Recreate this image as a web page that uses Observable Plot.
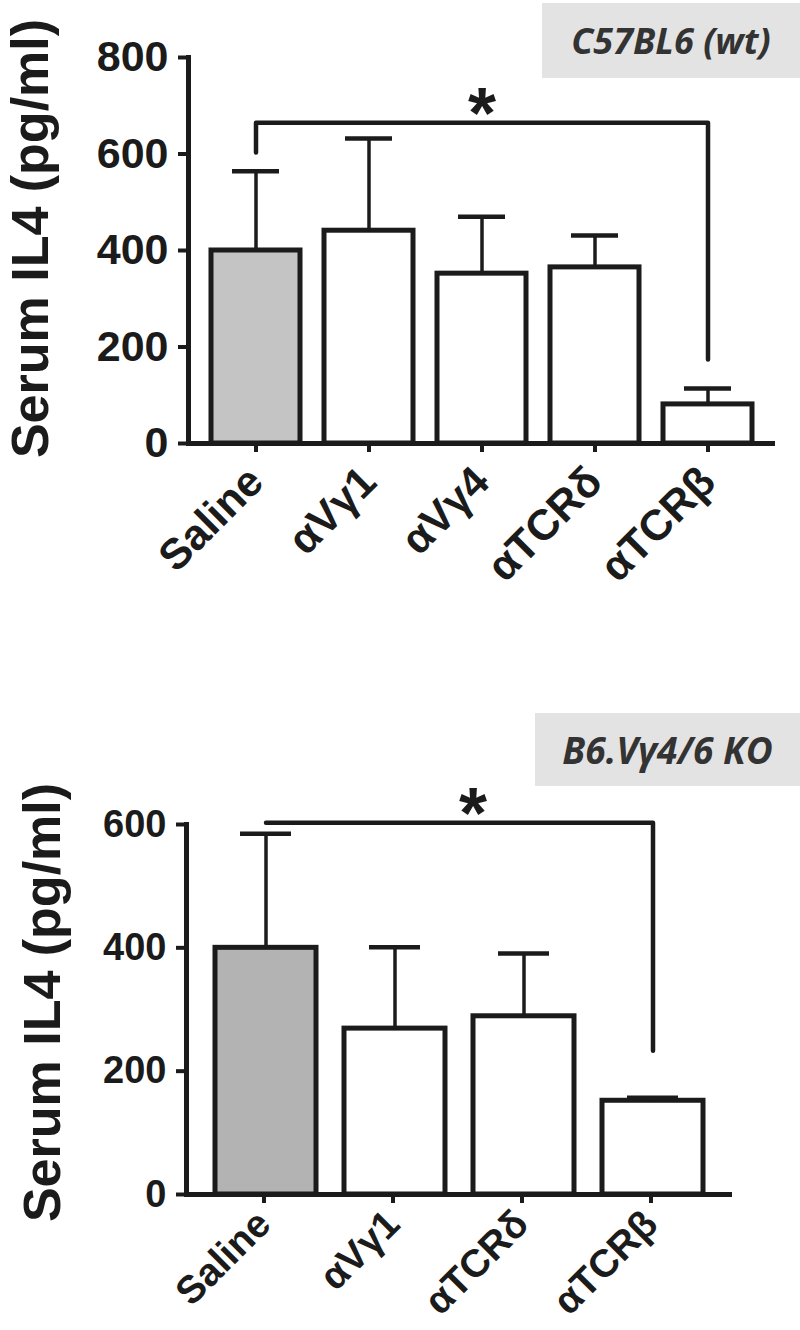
<!DOCTYPE html>
<html><head><meta charset="utf-8">
<script src="https://cdn.jsdelivr.net/npm/d3@7"></script>
<script src="https://cdn.jsdelivr.net/npm/@observablehq/plot@0.6"></script>
<style>
body{margin:0;background:#fff;}
.panel{position:relative;width:800px;overflow:hidden;}
.tag{position:absolute;z-index:2;background:#e3e3e3;display:flex;align-items:center;justify-content:center;font-family:"Open Sans",sans-serif;font-weight:700;font-style:italic;color:#333;font-size:36px;}
</style></head><body>
<div id="top" class="panel" style="height:700px"><div class="tag" style="left:542px;top:3px;width:258px;height:75px">C57BL6 (wt)</div></div>
<div id="bottom" class="panel" style="height:630px"><div class="tag" style="left:535px;top:13px;width:265px;height:73px;font-size:37px">B6.Vγ4/6 KO</div></div>
<script>
const yLabel = "Serum IL4 (pg/ml)";

const topCategories = ["Saline", "αVγ1", "αVγ4", "αTCRδ", "αTCRβ"];
const topMeans = [400, 441, 352, 365, 81];
const topErrors = [564, 632, 470, 431, 114];
const topTicks = [0, 200, 400, 600, 800];
const topBracketCats = ["Saline", "Saline", "αTCRβ", "αTCRβ"];
const topBracketValues = [603, 665, 665, 174];

const bottomCategories = ["Saline", "αVγ1", "αTCRδ", "αTCRβ"];
const bottomMeans = [400, 269, 289, 152];
const bottomErrors = [585, 401, 391, 157];
const bottomTicks = [0, 200, 400, 600];
const bottomBracketCats = ["Saline", "αTCRβ", "αTCRβ"];
const bottomBracketValues = [603, 603, 233];

function panel(o) {
  const data = o.cats.map((c, i) => ({cat: c, mean: o.means[i], err: o.errors[i]}));
  const bracket = o.bracketCats.map((c, i) => ({cat: c, y: o.bracketValues[i]}));
  const ink = "#1b1b1b";
  return Plot.plot({
    width: 800, height: o.height,
    marginLeft: o.ml, marginRight: o.mr, marginTop: o.mt, marginBottom: o.mb,
    style: {fontFamily: "'Liberation Sans', Arial, sans-serif", color: ink, background: "white", overflow: "visible"},
    x: {type: "band", domain: o.cats, paddingInner: o.pi, paddingOuter: o.po, label: null},
    y: {domain: [0, o.ticks[o.ticks.length - 1]], label: null},
    marks: [
      Plot.barY(data, {x: "cat", y: "mean", fill: d => d.cat === "Saline" ? o.gray : "white", stroke: ink, strokeWidth: 5}),
      Plot.ruleX(data, {x: "cat", y1: "mean", y2: "err", stroke: ink, strokeWidth: 3.5}),
      Plot.tickY(data, {x: "cat", y: "err", stroke: ink, strokeWidth: 4.5, insetLeft: o.capInset, insetRight: o.capInset}),
      Plot.line(bracket, {x: "cat", y: "y", stroke: ink, strokeWidth: 4.5}),
      Plot.text(["*"], {x: [o.starCat], y: [o.bracketValues[o.starIdx]], text: d => d, fontSize: 72, fontWeight: "bold", dx: o.starDx, dy: -8, fill: ink}),
      Plot.ruleY([0], {stroke: ink, strokeWidth: 5}),
      Plot.frame({anchor: "left", stroke: ink, strokeWidth: 5}),
      Plot.axisY({ticks: o.ticks, tickSize: 10, tickPadding: 10, fontSize: o.tickFont, fontWeight: "bold", strokeWidth: 4, label: null}),
      Plot.axisX({tickRotate: -45, tickSize: 9, tickPadding: o.xPad, dx: o.xDx, fontSize: o.xFont, fontWeight: "bold", strokeWidth: 4, label: null}),
      Plot.text([yLabel], {frameAnchor: "left", textAnchor: "middle", rotate: -90, text: d => d, fontSize: o.labelFont, fontWeight: "bold", dx: o.labelDx, dy: o.labelDy, fill: ink})
    ]
  });
}

document.getElementById("top").prepend(panel({
  cats: topCategories, means: topMeans, errors: topErrors, ticks: topTicks,
  bracketCats: topBracketCats, bracketValues: topBracketValues, starCat: "αVγ4", starIdx: 1, starDx: 0,
  height: 700, ml: 188, mr: 25, mt: 57, mb: 257, pi: 0.21, po: 0.2, capInset: 21,
  gray: "#c4c4c4", tickFont: 43, labelFont: 52, labelDx: -157, labelDy: -12, xPad: 22, xDx: 0, xFont: 43
}));

document.getElementById("bottom").prepend(panel({
  cats: bottomCategories, means: bottomMeans, errors: bottomErrors, ticks: bottomTicks,
  bracketCats: bottomBracketCats, bracketValues: bottomBracketValues, starCat: "αVγ1", starIdx: 0, starDx: 78,
  height: 630, ml: 186, mr: 68, mt: 124, mb: 136, pi: 0.218, po: 0.217, capInset: 25,
  gray: "#b3b3b3", tickFont: 38, labelFont: 52, labelDx: -143, labelDy: -7, xPad: 14, xDx: -2, xFont: 39
}));
</script>
</body></html>
